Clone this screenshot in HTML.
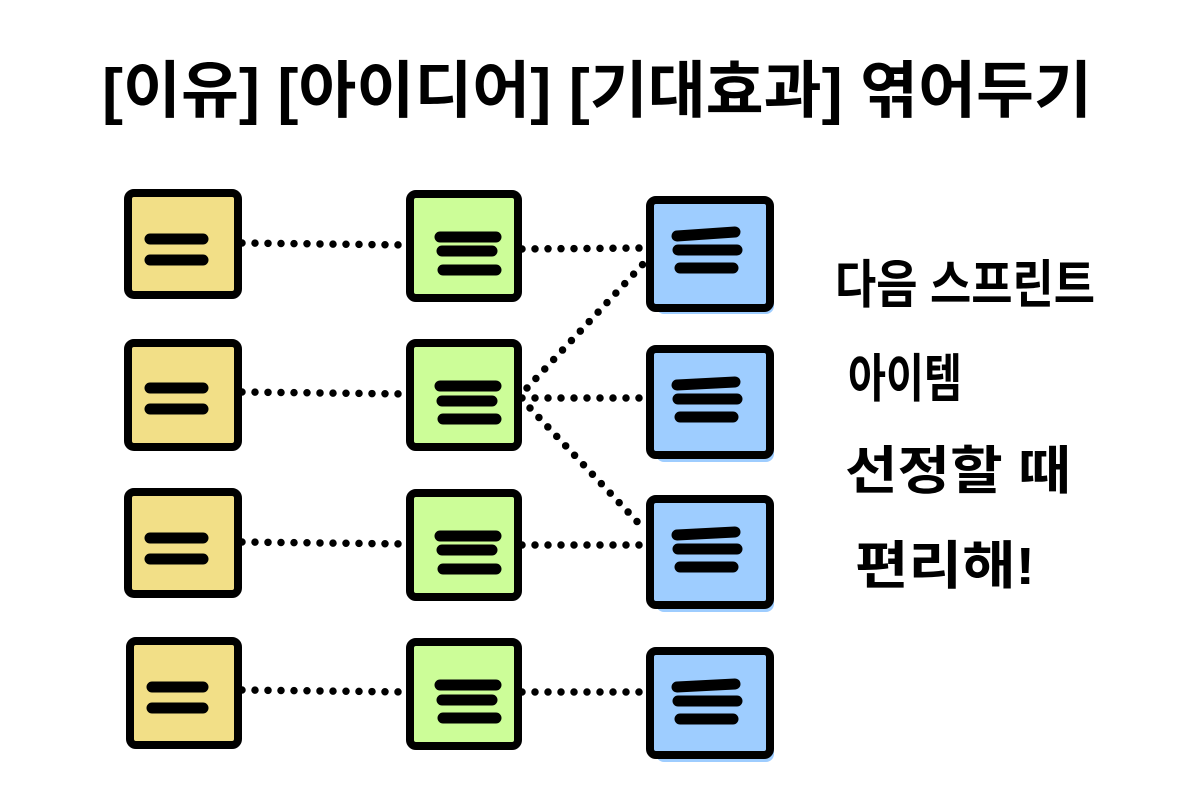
<!DOCTYPE html>
<html><head><meta charset="utf-8"><style>
html,body{margin:0;padding:0;background:#fff;width:1200px;height:800px;overflow:hidden}
svg{display:block}
text{font-family:"Liberation Sans","Noto Sans CJK KR","NanumGothic",sans-serif;font-weight:bold;fill:#000}
</style></head><body>
<svg width="1200" height="800" viewBox="0 0 1200 800">
<text x="597" y="112" font-size="62" text-anchor="middle" textLength="990" lengthAdjust="spacingAndGlyphs">[이유] [아이디어] [기대효과] 엮어두기</text>
<g stroke="#000" stroke-width="7.5" stroke-linecap="round" stroke-dasharray="0 13" fill="none">
<line x1="242" y1="243" x2="408" y2="245"/>
<line x1="242" y1="392" x2="408" y2="394"/>
<line x1="242" y1="542" x2="408" y2="544"/>
<line x1="242" y1="690" x2="408" y2="692"/>
<line x1="522" y1="249" x2="645" y2="248"/>
<line x1="522" y1="398" x2="645" y2="398"/>
<line x1="522" y1="545" x2="645" y2="545"/>
<line x1="522" y1="692" x2="645" y2="692"/>
<line x1="527" y1="388" x2="645" y2="262"/>
<line x1="530" y1="408" x2="645" y2="530"/>
</g>
<g stroke="#000" stroke-width="8" stroke-linejoin="round">
<rect x="128" y="193" width="110" height="102" rx="6" fill="#f2df87"/>
<rect x="128" y="343" width="110" height="104" rx="6" fill="#f2df87"/>
<rect x="128" y="492" width="110" height="102" rx="6" fill="#f2df87"/>
<rect x="130" y="641" width="108" height="104" rx="6" fill="#f2df87"/>
<rect x="410" y="194" width="108" height="104" rx="6" fill="#ccfd98"/>
<rect x="410" y="343" width="108" height="104" rx="6" fill="#ccfd98"/>
<rect x="410" y="493" width="108" height="104" rx="6" fill="#ccfd98"/>
<rect x="410" y="642" width="108" height="104" rx="6" fill="#ccfd98"/>
</g>
<g fill="#9ecdff">
<rect x="656" y="210" width="118" height="104" rx="8"/>
<rect x="656" y="358" width="118" height="104" rx="8"/>
<rect x="656" y="508" width="118" height="104" rx="8"/>
<rect x="656" y="660" width="118" height="102" rx="8"/>
</g>
<g stroke="#000" stroke-width="8" stroke-linejoin="round" fill="#9ecdff">
<rect x="650" y="200" width="120" height="108" rx="6"/>
<rect x="650" y="349" width="120" height="106" rx="6"/>
<rect x="650" y="499" width="120" height="106" rx="6"/>
<rect x="650" y="651" width="120" height="104" rx="6"/>
</g>
<g stroke="#000" stroke-width="11" stroke-linecap="round">
<path d="M150 239H203M150 260H203"/>
<path d="M150 388H203M150 409H203"/>
<path d="M150 538H203M150 559H203"/>
<path d="M152 687H203M152 708H203"/>
<path d="M440 237H496M442 251H492M443 270H496"/>
<path d="M440 386H496M442 401H492M443 419H496"/>
<path d="M440 536H496M442 550H492M443 569H496"/>
<path d="M440 685H496M442 700H492M443 718H496"/>
<path d="M677 236L735 232M678 250L737 250M680 268H733"/>
<path d="M677 385L735 382M678 399L737 399M680 417H733"/>
<path d="M677 535L735 532M678 549L737 549M680 567H733"/>
<path d="M677 687L735 684M678 701L737 701M680 719H733"/>
</g>
<g font-size="52">
<text x="835" y="303" textLength="260" lengthAdjust="spacingAndGlyphs">다음 스프린트</text>
<text x="848" y="397" textLength="114" lengthAdjust="spacingAndGlyphs">아이템</text>
<text x="845" y="489" textLength="226" lengthAdjust="spacingAndGlyphs">선정할 때</text>
<text x="855" y="584" textLength="180" lengthAdjust="spacingAndGlyphs">편리해!</text>
</g>
</svg>
</body></html>
